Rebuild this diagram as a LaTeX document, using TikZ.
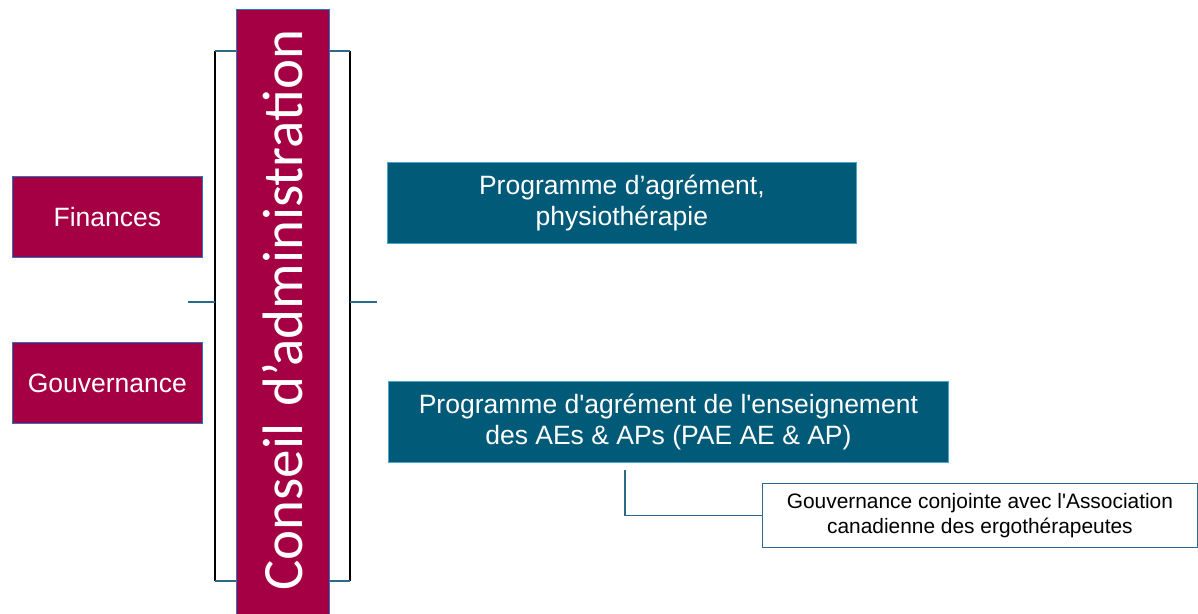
\documentclass[tikz,border=0pt]{standalone}
\usepackage{fontspec}
\setmainfont{Liberation Sans}
\newfontfamily\boardfont{Carlito}
\definecolor{maroon}{HTML}{A50044}
\definecolor{tealbox}{HTML}{005A78}
\definecolor{edgeblue}{HTML}{1F78C1}
\definecolor{stubcol}{HTML}{2B6A8A}
\definecolor{lightedge}{HTML}{4FA3C7}
\begin{document}
\begin{tikzpicture}[x=1pt,y=-1pt,
  redbox/.style={draw=edgeblue, line width=0.8pt, fill=maroon, text=white, anchor=north west, inner sep=0pt,
    font=\fontsize{26.5}{31}\selectfont, align=center},
  bluebox/.style={draw=lightedge, line width=0.8pt, fill=tealbox, text=white, anchor=north west, inner sep=0pt,
    font=\fontsize{26.5}{31}\selectfont, align=center},
  whitebox/.style={draw=stubcol, line width=0.8pt, fill=white, text=black, anchor=north west, inner sep=0pt,
    font=\fontsize{20.9}{25.5}\selectfont, align=center},
  stub/.style={draw=stubcol, line width=1.3pt},
  brack/.style={draw=black, line width=1.5pt}]
\useasboundingbox (0,0) rectangle (1198,613);
\clip (0,0) rectangle (1198,613);
% bracket
\coordinate (lt) at (215,51); \coordinate (lb) at (215,581);
\coordinate (rt) at (350,51); \coordinate (rb) at (350,581);
\coordinate (lm) at (215,302); \coordinate (rm) at (350,302);
\coordinate (lmo) at (188,302); \coordinate (rmo) at (377,302);
\coordinate (ltb) at (236,51); \coordinate (lbb) at (236,581);
\coordinate (rtb) at (329,51); \coordinate (rbb) at (329,581);
\draw[brack] (lt) -- (lb);
\draw[brack] (rt) -- (rb);
\draw[stub] (lt) -- (ltb);
\draw[stub] (lb) -- (lbb);
\draw[stub] (rt) -- (rtb);
\draw[stub] (rb) -- (rbb);
\draw[stub] (lmo) -- (lm);
\draw[stub] (rm) -- (rmo);
% board
\node[redbox, minimum width=93pt, minimum height=620pt] (board) at (236,9) {};
\node[rotate=90, anchor=base west, inner sep=0pt, text=white, font=\boardfont\fontsize{57}{60}\selectfont] (boardtxt) at (302,591) {Conseil\hspace{4pt} d’administration};
% left boxes
\node[redbox, minimum width=190pt, minimum height=81pt] (fin) at (12,176) {Finances};
\node[redbox, minimum width=190pt, minimum height=81pt] (gov) at (12,342) {Gouvernance};
% right boxes
\node[bluebox, minimum width=469pt, minimum height=81pt] (phys) at (387,162) {Programme d’agrément,\\physiothérapie};
\node[bluebox, minimum width=560pt, minimum height=81pt] (pae) at (388,381) {Programme d\textquotesingle agrément de l\textquotesingle enseignement\\des AEs \& APs (PAE AE \& AP)};
\node[whitebox, minimum width=435pt, minimum height=64pt] (joint) at (762,483) {Gouvernance conjointe avec l\textquotesingle Association\\canadienne des ergothérapeutes};
% connector
\coordinate (cstart) at (625,470);
\draw[stub] (cstart) |- (joint.west);
\end{tikzpicture}
\end{document}
